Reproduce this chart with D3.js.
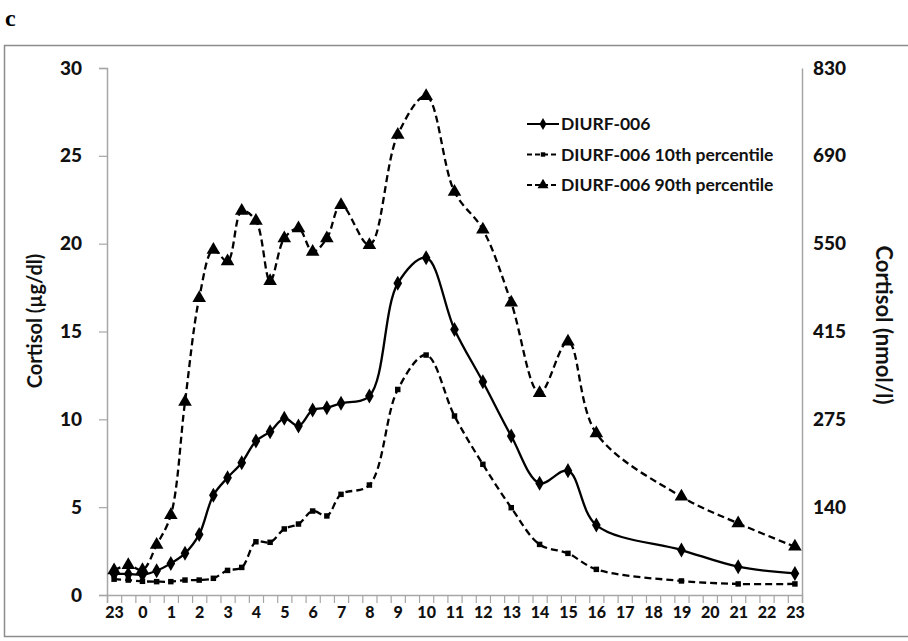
<!DOCTYPE html>
<html><head><meta charset="utf-8">
<script src="https://cdn.jsdelivr.net/npm/d3@7"></script>
<style>body{margin:0;background:#fff}svg{display:block}</style>
</head><body>
<svg id="c" width="908" height="641"></svg>
<script>
// ---- data ----
const hours = [-1,-0.5,0,0.5,1,1.5,2,2.5,3,3.5,4,4.5,5,5.5,6,6.5,7,8,9,10,11,12,13,14,15,16,19,21,23];
const mainVals = [1.2,1.2,1.15,1.38,1.8,2.37,3.45,5.68,6.68,7.53,8.76,9.3,10.06,9.62,10.53,10.66,10.91,11.33,17.74,19.2,15.12,12.14,9.05,6.36,7.08,3.98,2.56,1.61,1.23];
const p10Vals = [0.9,0.85,0.78,0.76,0.76,0.85,0.85,0.95,1.4,1.57,3.03,3.0,3.76,4.04,4.78,4.5,5.73,6.26,11.7,13.66,10.19,7.44,4.97,2.88,2.37,1.46,0.8,0.63,0.63];
const p90Vals = [1.4,1.7,1.42,2.85,4.55,11.0,16.9,19.65,19.0,21.87,21.3,17.87,20.3,20.87,19.54,20.3,22.2,19.92,26.2,28.4,22.95,20.8,16.64,11.5,14.42,9.2,5.6,4.08,2.75];
const xTickHours = [-1,0,1,2,3,4,5,6,7,8,9,10,11,12,13,14,15,16,17,18,19,20,21,22,23];
const xTickLabels = ["23","0","1","2","3","4","5","6","7","8","9","10","11","12","13","14","15","16","17","18","19","20","21","22","23"];
const leftTicks = [0,5,10,15,20,25,30];
const rightTicks = [5,10,15,20,25,30];
const rightTickLabels = ["140","275","415","550","690","830"];
const seriesNames = ["DIURF-006","DIURF-006 10th percentile","DIURF-006 90th percentile"];

const svg = d3.select("#c");
const L = 107, R = 802, T = 68, B = 595;
const x = d3.scaleLinear().domain([-1.25, 23.25]).range([L, R]);
const y = d3.scaleLinear().domain([0, 30]).range([B, T]);
const axisCol = "#a6a6a6";
const FF = "Lato,'Open Sans',sans-serif";

// frame + panel letter
svg.append("rect").attr("x",4.5).attr("y",45.5).attr("width",920).attr("height",591)
  .attr("fill","none").attr("stroke","#8c8c8c").attr("stroke-width",1.5);
svg.append("text").attr("x",5).attr("y",26).text("c")
  .style("font-family","'Liberation Serif','DejaVu Serif',serif").style("font-weight","bold").style("font-size","24px");

// left axis
const gl = svg.append("g").attr("transform",`translate(${L},0)`)
  .call(d3.axisLeft(y).tickValues(leftTicks).tickSize(8).tickPadding(17).tickFormat(d3.format("d")));
gl.select(".domain").attr("stroke",axisCol).attr("stroke-width",1.5);
gl.selectAll(".tick line").attr("stroke",axisCol).attr("stroke-width",1.2);
gl.selectAll(".tick text").style("font-family",FF).style("font-weight","900").style("font-size","19px").attr("fill","#111");

// right axis
const gr = svg.append("g").attr("transform",`translate(${R},0)`)
  .call(d3.axisRight(y).tickValues(rightTicks).tickSize(0).tickPadding(11).tickFormat((d,i)=>rightTickLabels[i]));
gr.select(".domain").attr("stroke",axisCol).attr("stroke-width",1.5);
gr.selectAll(".tick text").style("font-family",FF).style("font-weight","900").style("font-size","19px").attr("fill","#111");

// x axis
const minorTicks = d3.range(0, 50).map(k => -1.25 + 0.5*k);
const gxm = svg.append("g").attr("transform",`translate(0,${B})`)
  .call(d3.axisBottom(x).tickValues(minorTicks).tickSize(8).tickFormat(""));
gxm.select(".domain").attr("stroke",axisCol).attr("stroke-width",1.5);
gxm.selectAll(".tick line").attr("stroke",axisCol).attr("stroke-width",1.2);
const gx = svg.append("g").attr("transform",`translate(0,${B})`)
  .call(d3.axisBottom(x).tickValues(xTickHours).tickSize(0).tickPadding(12).tickFormat((d,i)=>xTickLabels[i]));
gx.select(".domain").remove();
gx.selectAll(".tick text").style("font-family",FF).style("font-weight","900").style("font-size","16px").attr("fill","#111");

// axis titles
svg.append("text").attr("transform","translate(42,321) rotate(-90)").attr("text-anchor","middle")
  .text("Cortisol (µg/dl)").style("font-family",FF).style("font-weight","bold").style("font-size","20px").attr("fill","#111");
svg.append("text").attr("transform","translate(876,325) rotate(90)").attr("text-anchor","middle")
  .text("Cortisol (nmol/l)").style("font-family",FF).style("font-weight","bold").style("font-size","22px").attr("fill","#111");

// series
const line = d3.line().x(d=>x(d[0])).y(d=>y(d[1])).curve(d3.curveCatmullRom.alpha(0.5));
const series = [
  {vals: mainVals, dash: null, sym: d3.symbolDiamond, size: 65},
  {vals: p10Vals, dash: "7,4", sym: d3.symbolSquare, size: 30},
  {vals: p90Vals, dash: "7,4", sym: d3.symbolTriangle, size: 80},
];
series.forEach(s => {
  const pts = hours.map((h,i)=>[h, s.vals[i]]);
  svg.append("path").datum(pts).attr("d", line).attr("fill","none").attr("stroke","#000")
    .attr("stroke-width",2.3).attr("stroke-dasharray", s.dash);
  svg.append("g").selectAll("path").data(pts).join("path")
    .attr("transform", d=>`translate(${x(d[0])},${y(d[1])})`)
    .attr("d", d3.symbol().type(s.sym).size(s.size)).attr("fill","#000");
});

// legend
const lg = svg.append("g");
series.forEach((s,i) => {
  const yy = 124 + i*30.5;
  lg.append("line").attr("x1",527).attr("x2",559).attr("y1",yy).attr("y2",yy)
    .attr("stroke","#000").attr("stroke-width",2).attr("stroke-dasharray", s.dash ? "5,3" : null);
  lg.append("path").attr("transform",`translate(543,${yy})`).attr("d", d3.symbol().type(s.sym).size(s.size*0.65)).attr("fill","#000");
  lg.append("text").attr("x",561).attr("y",yy+6).text(seriesNames[i])
    .style("font-family",FF).style("font-weight","bold").style("font-size","17.5px").attr("fill","#111");
});
</script>
</body></html>
